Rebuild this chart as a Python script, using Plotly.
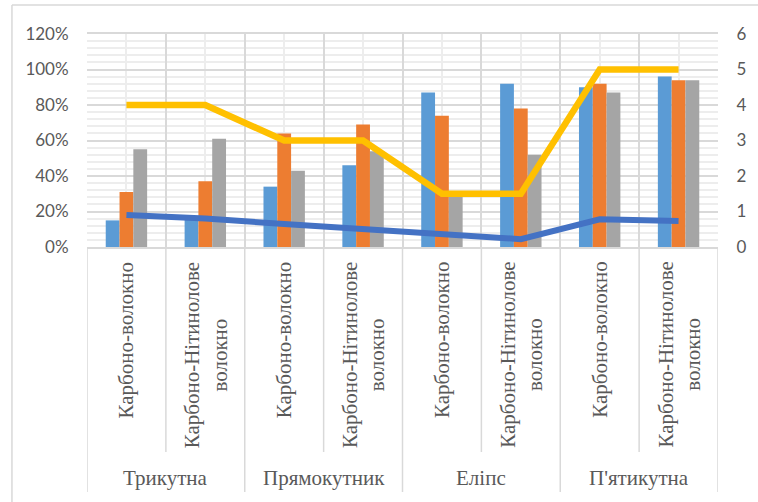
import plotly.graph_objects as go

# Cross-section shapes and fibre types
groups = ["Трикутна", "Прямокутник", "Еліпс", "П'ятикутна"]
fibers = ["Карбоно-волокно", "Карбоно-Нітинолове<br>волокно"]

# Bar series (left axis, fractions shown as %)
series_a = [0.15, 0.17, 0.34, 0.46, 0.87, 0.92, 0.90, 0.96]
series_b = [0.31, 0.37, 0.64, 0.69, 0.74, 0.78, 0.92, 0.94]
series_c = [0.55, 0.61, 0.43, 0.54, 0.30, 0.52, 0.87, 0.94]

# Line series (right axis)
line_gold = [4, 4, 3, 3, 1.5, 1.5, 5, 5]
line_navy = [0.9, 0.8, 0.65, 0.5, 0.37, 0.22, 0.78, 0.73]

y_ticks = [0, 0.2, 0.4, 0.6, 0.8, 1.0, 1.2]
y2_ticks = [0, 1, 2, 3, 4, 5, 6]

n = len(groups) * len(fibers)
xs = list(range(n))

TEXT = "#595959"
GRID = "#D9D9D9"
MINOR = "#EDEDED"
SERIF = "Liberation Serif"
SANS = "Lato"

fig = go.Figure()
for vals, col, name in [(series_a, "#5B9BD5", "A"),
                        (series_b, "#ED7D31", "B"),
                        (series_c, "#A5A5A5", "C")]:
    fig.add_trace(go.Bar(x=xs, y=vals, name=name, marker_color=col,
                         marker_line_width=0, yaxis="y"))

fig.add_trace(go.Scatter(x=xs, y=line_gold, mode="lines", yaxis="y2",
                         line=dict(color="#FFC000", width=6.5), name="D"))
fig.add_trace(go.Scatter(x=xs, y=line_navy, mode="lines", yaxis="y2",
                         line=dict(color="#4472C4", width=6), name="E"))

# Category labels under the plot
annotations = []
shapes = []
ppx = 213.0  # plot height in px, used for paper offsets below the axis
for g, grp in enumerate(groups):
    for f, fib in enumerate(fibers):
        i = g * len(fibers) + f
        annotations.append(dict(
            x=i, xref="x", y=-13 / ppx, yref="paper", text=fib,
            textangle=-90, xanchor="center", yanchor="top", align="center",
            showarrow=False, font=dict(family=SERIF, size=21, color=TEXT)))
    center = g * len(fibers) + (len(fibers) - 1) / 2
    annotations.append(dict(
        x=center, xref="x", y=-231 / ppx, yref="paper", text=grp,
        xanchor="center", yanchor="middle", showarrow=False,
        font=dict(family=SERIF, size=21, color=TEXT)))

# Divider lines in the category area
for b in range(n + 1):
    xb = b - 0.5
    outer = b % len(fibers) == 0
    shapes.append(dict(type="line", xref="x", yref="paper", x0=xb, x1=xb,
                       y0=0, y1=(-245 if outer else -205) / ppx,
                       line=dict(color=GRID, width=1.5), layer="below"))

# Chart frame
shapes.append(dict(type="line", xref="paper", yref="paper",
                   x0=-76 / 639, x1=1.1, y0=242 / ppx, y1=242 / ppx,
                   line=dict(color=GRID, width=1.5)))
shapes.append(dict(type="line", xref="paper", yref="paper",
                   x0=-76 / 639, x1=-76 / 639, y0=242 / ppx, y1=-270 / ppx,
                   line=dict(color=GRID, width=1.5)))

fig.update_layout(
    width=758, height=502,
    margin=dict(l=87, r=32, t=34, b=255),
    paper_bgcolor="white", plot_bgcolor="white",
    barmode="group", bargap=0.475, bargroupgap=0,
    showlegend=False,
    xaxis=dict(range=[-0.5, n - 0.5], tickmode="linear", tick0=-0.5, dtick=1,
               showticklabels=False, showgrid=True, gridcolor=GRID,
               gridwidth=1.5, zeroline=False, showline=True, linecolor=GRID,
               linewidth=1.5, mirror=True,
               minor=dict(tickmode="linear", tick0=0, dtick=1,
                          showgrid=True, gridcolor=MINOR, gridwidth=1.5)),
    yaxis=dict(range=[0, 1.2], tickmode="array", tickvals=y_ticks,
               tickformat=".0%", showgrid=True, gridcolor=GRID, gridwidth=1.5,
               zeroline=False, ticks="outside", ticklen=14,
               tickcolor="rgba(0,0,0,0)",
               tickfont=dict(family=SANS, size=17, color=TEXT),
               minor=dict(tickmode="linear", tick0=0, dtick=0.04,
                          showgrid=True, gridcolor=MINOR, gridwidth=1.5)),
    yaxis2=dict(range=[0, 6], tickmode="array", tickvals=y2_ticks,
                overlaying="y", side="right", showgrid=False, zeroline=False,
                ticks="outside", ticklen=14, tickcolor="rgba(0,0,0,0)",
                tickfont=dict(family=SANS, size=17, color=TEXT)),
    annotations=annotations,
    shapes=shapes,
)

fig.write_html("out.html")
